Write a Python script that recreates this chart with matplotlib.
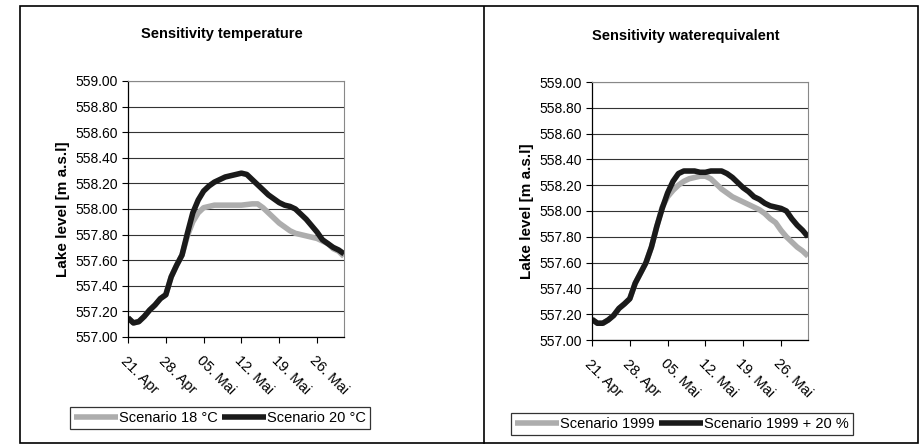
import numpy as np
import matplotlib.pyplot as plt
from matplotlib.patches import Rectangle
from matplotlib.lines import Line2D

plt.rcParams['font.family'] = ['Liberation Sans', 'DejaVu Sans']

# daily values, 21 Apr .. 31 May
days = np.arange(41)
tick_days = [0, 7, 14, 21, 28, 35]
tick_labels = ["21. Apr", "28. Apr", "05. Mai", "12. Mai", "19. Mai", "26. Mai"]

# Sensitivity temperature
temp_20 = [557.15, 557.11, 557.12, 557.16, 557.21, 557.25, 557.30, 557.33, 557.47, 557.56,
           557.64, 557.81, 557.97, 558.07, 558.14, 558.18, 558.21, 558.23, 558.25, 558.26,
           558.27, 558.28, 558.27, 558.23, 558.19, 558.15, 558.11, 558.08, 558.05, 558.03,
           558.02, 558.00, 557.96, 557.92, 557.87, 557.82, 557.76, 557.73, 557.70, 557.68,
           557.65]
temp_18 = [557.15, 557.11, 557.12, 557.16, 557.21, 557.25, 557.30, 557.33, 557.47, 557.56,
           557.64, 557.79, 557.90, 557.97, 558.01, 558.02, 558.03, 558.03, 558.03, 558.03,
           558.03, 558.03, 558.035, 558.04, 558.04, 558.01, 557.97, 557.93, 557.89, 557.86,
           557.83, 557.81, 557.80, 557.79, 557.78, 557.77, 557.75, 557.73, 557.69, 557.67,
           557.63]

# Sensitivity waterequivalent
we_1999 = [557.16, 557.13, 557.13, 557.155, 557.19, 557.245, 557.28, 557.32, 557.44, 557.52,
           557.60, 557.72, 557.88, 558.03, 558.11, 558.16, 558.20, 558.23, 558.25, 558.26,
           558.27, 558.27, 558.25, 558.21, 558.17, 558.14, 558.11, 558.09, 558.07, 558.05,
           558.03, 558.01, 557.98, 557.94, 557.91, 557.85, 557.80, 557.76, 557.72, 557.69,
           557.65]
we_1999_20 = [557.16, 557.13, 557.13, 557.155, 557.19, 557.245, 557.28, 557.32, 557.44, 557.52,
              557.60, 557.72, 557.88, 558.02, 558.14, 558.23, 558.29, 558.31, 558.31, 558.31,
              558.30, 558.30, 558.31, 558.31, 558.31, 558.29, 558.26, 558.22, 558.18, 558.15,
              558.11, 558.09, 558.06, 558.04, 558.03, 558.02, 558.00, 557.94, 557.89, 557.85,
              557.80]

fig = plt.figure(figsize=(9.19, 4.45), dpi=100)
W, H = 919, 445


def fx(px):
    return px / W


def fy(py):
    return 1 - py / H


# outer frame and divider
fig.add_artist(Rectangle((fx(20), fy(443)), fx(898), 437 / H, transform=fig.transFigure,
                         fill=False, edgecolor='black', lw=1.2))
fig.add_artist(Line2D([fx(484), fx(484)], [fy(443), fy(7)], transform=fig.transFigure,
                      color='black', lw=1.2))

panels = [
    dict(rect=[fx(128), fy(337), 216 / W, 256 / H], title="Sensitivity temperature",
         tx=222, ty=34, gray=temp_18, dark=temp_20,
         names=["Scenario 18 °C", "Scenario 20 °C"], leg=(220, 418)),
    dict(rect=[fx(592), fy(340), 216 / W, 258 / H], title="Sensitivity waterequivalent",
         tx=686, ty=36, gray=we_1999, dark=we_1999_20,
         names=["Scenario 1999", "Scenario 1999 + 20 %"], leg=(682, 424)),
]

for p in panels:
    ax = fig.add_axes(p['rect'])
    l1, = ax.plot(days, p['gray'], color='#adadad', lw=4, solid_capstyle='butt')
    l2, = ax.plot(days, p['dark'], color='#1a1a1a', lw=4, solid_capstyle='butt')
    ax.set_xlim(0, 40)
    ax.set_ylim(557.0, 559.0)
    yt = np.arange(557.0, 559.01, 0.2)
    ax.set_yticks(yt)
    ax.set_yticklabels([f"{v:.2f}" for v in yt], fontsize=10)
    ax.set_xticks(tick_days)
    ax.set_xticklabels(tick_labels, rotation=-45, ha='left', va='top',
                       rotation_mode='anchor', fontsize=10.5)
    ax.tick_params(direction='out', length=4, width=0.8, pad=3)
    ax.tick_params(axis='x', pad=8)
    ax.grid(axis='y', color='#333333', lw=0.8)
    ax.set_axisbelow(True)
    for s in ['top', 'right']:
        ax.spines[s].set_color('#888888')
        ax.spines[s].set_linestyle((0, (1, 1)))
        ax.spines[s].set_linewidth(0.8)
    for s in ['left', 'bottom']:
        ax.spines[s].set_color('black')
        ax.spines[s].set_linewidth(0.9)
    ax.set_ylabel("Lake level [m a.s.l]", fontsize=11, fontweight='bold')
    ax.yaxis.set_label_coords(-0.27, 0.5)
    fig.text(fx(p['tx']), fy(p['ty']), p['title'], ha='center', va='center',
             fontsize=10.5, fontweight='bold')
    leg = fig.legend([l1, l2], p['names'], loc='center',
                     bbox_to_anchor=(fx(p['leg'][0]), fy(p['leg'][1])),
                     ncol=2, fontsize=10.5, frameon=True, fancybox=False,
                     handlelength=3.0, handletextpad=0.1, columnspacing=0.3,
                     borderpad=0.25, borderaxespad=0)
    leg.get_frame().set_edgecolor('black')
    leg.get_frame().set_linewidth(0.9)

fig.savefig("out.png", dpi=100)
